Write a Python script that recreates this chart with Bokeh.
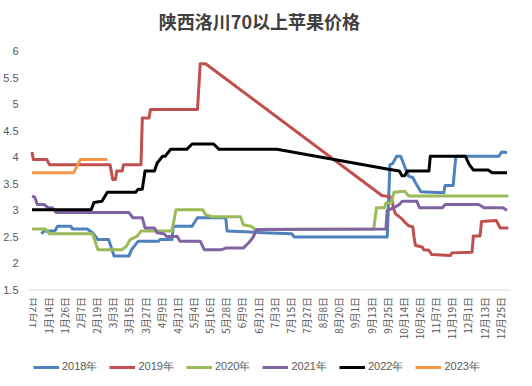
import math
from bokeh.plotting import figure
from bokeh.models import Range1d, FixedTicker, Legend, LegendItem, Span, Label
from bokeh.core.properties import value
from bokeh.embed import file_html
from bokeh.resources import INLINE

title_text = "陕西洛川70以上苹果价格"

# category tick labels (every 12th trading day)
tick_labels = ["1月2日", "1月14日", "1月26日", "2月7日", "2月19日", "3月3日", "3月15日",
               "3月27日", "4月9日", "4月21日", "5月4日", "5月16日", "5月28日", "6月9日",
               "6月21日", "7月3日", "7月15日", "7月27日", "8月8日", "8月20日", "9月1日",
               "9月13日", "9月25日", "10月14日", "10月26日", "11月7日", "11月19日",
               "12月1日", "12月13日", "12月25日"]
tick_step = 12
y_ticks = [1.5, 2, 2.5, 3, 3.5, 4, 4.5, 5, 5.5, 6]

years = ["2018年", "2019年", "2020年", "2021年", "2022年", "2023年"]

x2018 = [7, 9, 17, 19, 29, 30, 41, 45, 49, 57, 61, 72, 74, 79, 94, 95, 104, 105, 119, 123,
         144, 145, 172, 193, 195, 264, 266, 268, 271, 274, 277, 280, 283, 285, 289, 306,
         307, 313, 315, 347, 349, 353]
y2018 = [2.56, 2.61, 2.61, 2.70, 2.70, 2.65, 2.65, 2.58, 2.45, 2.45, 2.14, 2.14, 2.26, 2.42,
         2.42, 2.45, 2.45, 2.70, 2.70, 2.86, 2.86, 2.61, 2.58, 2.56, 2.50, 2.50, 3.86, 3.88,
         4.02, 4.02, 3.82, 3.64, 3.62, 3.52, 3.35, 3.33, 3.47, 3.47, 4.02, 4.02, 4.10, 4.09]

x2019 = [0, 1, 11, 13, 58, 60, 62, 63, 67, 68, 81, 82, 87, 88, 123, 125, 129, 260, 267, 269,
         270, 274, 277, 280, 283, 284, 285, 290, 291, 295, 297, 311, 312, 327, 328, 333, 334,
         345, 348, 354]
y2019 = [4.10, 3.96, 3.96, 3.86, 3.86, 3.58, 3.58, 3.74, 3.74, 3.86, 3.86, 4.74, 4.74, 4.90,
         4.90, 5.76, 5.76, 3.28, 3.25, 3.01, 2.94, 2.86, 2.78, 2.71, 2.69, 2.48, 2.34, 2.31,
         2.26, 2.25, 2.17, 2.15, 2.20, 2.21, 2.52, 2.52, 2.79, 2.81, 2.67, 2.67]

x2020 = [0, 10, 13, 45, 49, 67, 70, 73, 78, 81, 104, 107, 127, 129, 134, 155, 157, 163, 166,
         254, 256, 262, 263, 267, 269, 277, 280, 354]
y2020 = [2.65, 2.65, 2.56, 2.56, 2.26, 2.26, 2.32, 2.45, 2.51, 2.61, 2.61, 3.01, 3.01, 2.92,
         2.88, 2.88, 2.73, 2.70, 2.64, 2.65, 3.05, 3.05, 3.14, 3.14, 3.34, 3.36, 3.27, 3.27]

x2021 = [0, 2, 4, 9, 12, 15, 18, 72, 75, 82, 84, 91, 93, 98, 100, 108, 110, 125, 128, 141,
         144, 157, 161, 164, 167, 263, 264, 269, 273, 275, 286, 288, 305, 307, 332, 336, 350, 353]
y2021 = [3.27, 3.25, 3.11, 3.11, 3.05, 3.05, 2.96, 2.96, 2.86, 2.86, 2.67, 2.67, 2.58, 2.56,
         2.51, 2.51, 2.42, 2.42, 2.26, 2.26, 2.29, 2.29, 2.39, 2.48, 2.64, 2.65, 3.00, 3.05,
         3.11, 3.17, 3.17, 3.05, 3.05, 3.11, 3.11, 3.05, 3.05, 3.00]

x2022 = [0, 44, 46, 52, 56, 77, 79, 82, 84, 91, 93, 97, 99, 103, 115, 119, 135, 139, 182,
         266, 273, 275, 277, 279, 295, 296, 322, 325, 328, 339, 342, 353]
y2022 = [3.01, 3.01, 3.15, 3.17, 3.34, 3.34, 3.40, 3.40, 3.74, 3.74, 3.89, 4.02, 4.02, 4.15,
         4.15, 4.25, 4.25, 4.15, 4.15, 3.77, 3.74, 3.65, 3.65, 3.74, 3.74, 4.02, 4.02, 3.86,
         3.76, 3.76, 3.71, 3.71]

x2023 = [0, 31, 36, 56]
y2023 = [3.71, 3.71, 3.96, 3.96]

colors = ["#4F81BD", "#C0504D", "#9BBB59", "#8064A2", "#000000", "#F79646"]

# frame covers the canvas vertically; y range extended so that 6 -> top of plot area
p = figure(width=516, height=374, output_backend="svg", toolbar_location=None,
           x_range=Range1d(-1.85, 355.6), y_range=Range1d(-0.09, 6.82),
           min_border_left=27, min_border_right=6, min_border_top=7, min_border_bottom=0,
           x_axis_location=None)
p.outline_line_color = None
p.background_fill_color = "white"
p.border_fill_color = "white"
p.xgrid.visible = False
p.ygrid.visible = False

# category axis line at the bottom of the value range
p.add_layout(Span(location=y_ticks[0], dimension="width", line_color="#D9D9D9", line_width=1))

series = [(x2018, y2018), (x2019, y2019), (x2020, y2020), (x2021, y2021), (x2022, y2022), (x2023, y2023)]
renderers = []
for (xs, ys), c in zip(series, colors):
    r = p.line(xs, ys, line_color=c, line_width=3, line_join="round")
    renderers.append(r)

# y axis
p.yaxis.ticker = FixedTicker(ticks=y_ticks)
p.yaxis.major_label_overrides = {2: "2", 3: "3", 4: "4", 5: "5", 6: "6"}
p.yaxis.axis_line_color = None
p.yaxis.major_tick_line_color = None
p.yaxis.minor_tick_line_color = None
p.yaxis.major_tick_out = 0
p.yaxis.major_tick_in = 0
p.yaxis.major_label_text_font = "Liberation Sans"
p.yaxis.major_label_text_font_size = "11px"
p.yaxis.major_label_text_color = "#595959"
p.yaxis.major_label_standoff = 11

# x category labels, vertical, hanging below the axis line
ticks = [i * tick_step for i in range(len(tick_labels))]
p.text(x=ticks, y=[y_ticks[0]] * len(ticks), text=tick_labels, angle=math.pi / 2,
       text_align="right", text_baseline="middle", y_offset=7,
       text_font=value("Noto Sans CJK SC"), text_font_size="10px", text_color="#595959")

# title
p.add_layout(Label(x=169, y=6.56, text=title_text, text_align="center", text_baseline="middle",
                   text_font="Noto Sans CJK SC", text_font_size="18px", text_font_style="bold",
                   text_color="#404040"))

legend = Legend(items=[LegendItem(label=y, renderers=[r]) for y, r in zip(years, renderers)],
                orientation="horizontal", location=(4, 0))
legend.glyph_width = 26
legend.glyph_height = 14
legend.label_height = 14
legend.label_standoff = 3
legend.spacing = 12
legend.padding = 0
legend.margin = 0
legend.border_line_color = None
legend.background_fill_alpha = 0
legend.label_text_font = "Liberation Sans"
legend.label_text_font_size = "11px"
legend.label_text_color = "#595959"
p.add_layout(legend, "center")

open("out.html", "w").write(file_html(p, INLINE))
